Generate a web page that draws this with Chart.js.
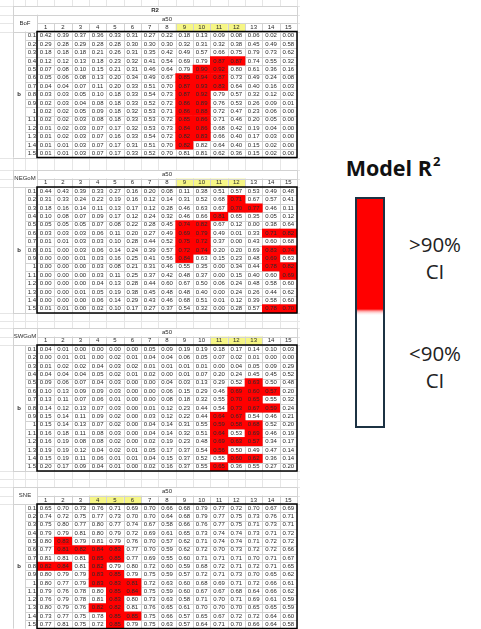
<!DOCTYPE html>
<html>
<head>
<meta charset="utf-8">
<script src="https://cdn.jsdelivr.net/npm/chart.js@4.4.1/dist/chart.umd.min.js"></script>
<style>
  html, body { margin: 0; padding: 0; background: #fff; width: 481px; height: 629px; overflow: hidden; }
  canvas { position: absolute; left: 0; }
  .ltitle { position: absolute; left: 323px; width: 140px; top: 151px; text-align: center;
            font: bold 21.5px "Open Sans", sans-serif; line-height: 24px; color: #111; }
  .ltitle sup { font-size: 13px; position: relative; top: -2px; margin-left: 1px; }
  .lbar { position: absolute; left: 355px; top: 197px; width: 30px; height: 231px; box-sizing: border-box;
          border: 2px solid #1c3243;
          background: linear-gradient(to bottom, #ff0000 0px, #ff0000 110px, #ff9c9c 112px, #ffe2e2 114px, #ffffff 116px, #ffffff 100%); }
  .ltext { position: absolute; left: 394px; width: 82px; text-align: center;
           font: 20.5px "Open Sans", sans-serif; line-height: 27px; color: #222; }
</style>
</head>
<body>
<canvas id="bof" width="300" height="163" style="top:0px"></canvas>
<canvas id="negom" width="300" height="160" style="top:163px"></canvas>
<canvas id="swgom" width="300" height="158" style="top:323px"></canvas>
<canvas id="sne" width="300" height="148" style="top:481px"></canvas>

<div class="ltitle">Model R<sup>2</sup></div>
<div class="lbar"></div>
<div class="ltext" style="top:231px">&gt;90%<br>CI</div>
<div class="ltext" style="top:340px">&lt;90%<br>CI</div>

<script>
// a50 values (columns) and b values (rows)
const colLabels = ['1','2','3','4','5','6','7','8','9','10','11','12','13','14','15'];
const rowLabels = ['0.1','0.2','0.3','0.4','0.5','0.6','0.7','0.8','0.9','1','1.1','1.2','1.3','1.4','1.5'];

// Bay of Fundy: model R2 by b (rows) and a50 (columns)
const bofR2 = [
  [0.42,0.39,0.37,0.36,0.33,0.31,0.27,0.22,0.18,0.13,0.09,0.08,0.06,0.02,0.00],
  [0.29,0.28,0.29,0.28,0.28,0.30,0.30,0.30,0.32,0.31,0.32,0.38,0.45,0.49,0.58],
  [0.18,0.18,0.18,0.21,0.26,0.31,0.35,0.42,0.49,0.57,0.66,0.75,0.79,0.73,0.62],
  [0.12,0.12,0.13,0.18,0.23,0.32,0.41,0.54,0.69,0.79,0.87,0.87,0.74,0.55,0.32],
  [0.07,0.08,0.10,0.15,0.21,0.31,0.46,0.64,0.79,0.90,0.92,0.80,0.61,0.36,0.16],
  [0.05,0.06,0.08,0.13,0.20,0.34,0.49,0.67,0.85,0.94,0.87,0.73,0.49,0.24,0.08],
  [0.04,0.04,0.07,0.11,0.20,0.33,0.51,0.70,0.87,0.93,0.83,0.64,0.40,0.16,0.03],
  [0.03,0.03,0.05,0.10,0.18,0.33,0.54,0.73,0.87,0.92,0.79,0.57,0.32,0.12,0.02],
  [0.02,0.03,0.04,0.08,0.18,0.33,0.52,0.72,0.86,0.89,0.76,0.53,0.26,0.09,0.01],
  [0.02,0.02,0.05,0.09,0.18,0.32,0.53,0.71,0.86,0.88,0.72,0.47,0.23,0.06,0.00],
  [0.02,0.02,0.03,0.08,0.18,0.33,0.53,0.72,0.85,0.86,0.71,0.46,0.20,0.05,0.00],
  [0.01,0.02,0.03,0.07,0.17,0.32,0.53,0.73,0.84,0.86,0.68,0.42,0.19,0.04,0.00],
  [0.01,0.02,0.03,0.07,0.16,0.33,0.54,0.72,0.82,0.83,0.66,0.40,0.17,0.03,0.00],
  [0.01,0.01,0.03,0.07,0.17,0.31,0.51,0.70,0.82,0.82,0.64,0.40,0.15,0.02,0.00],
  [0.01,0.01,0.03,0.07,0.17,0.33,0.52,0.70,0.81,0.81,0.62,0.36,0.15,0.02,0.00]
];
// a50 columns, per b row, whose R2 falls above the 90% CI
const bofSig = [[],[],[],[11,12],[10,11],[9,10,11],[9,10,11],[9,10],[9,10],[9,10],[9,10],[9,10],[9,10],[9],[]];
const bofHighlight = [9,10,11,12];

// Northeast Gulf of Maine
const negomR2 = [
  [0.44,0.43,0.39,0.33,0.27,0.16,0.20,0.08,0.11,0.38,0.51,0.57,0.53,0.49,0.48],
  [0.31,0.33,0.24,0.22,0.19,0.16,0.12,0.14,0.31,0.52,0.68,0.71,0.67,0.57,0.41],
  [0.18,0.16,0.14,0.11,0.13,0.17,0.12,0.28,0.46,0.63,0.67,0.70,0.77,0.46,0.11],
  [0.10,0.08,0.07,0.09,0.17,0.12,0.24,0.32,0.46,0.66,0.81,0.65,0.35,0.05,0.12],
  [0.05,0.05,0.05,0.07,0.08,0.22,0.28,0.45,0.74,0.82,0.67,0.12,0.00,0.38,0.64],
  [0.03,0.03,0.03,0.06,0.11,0.20,0.27,0.49,0.69,0.79,0.49,0.01,0.33,0.71,0.82],
  [0.01,0.01,0.03,0.03,0.10,0.28,0.44,0.52,0.75,0.72,0.37,0.00,0.43,0.60,0.68],
  [0.01,0.00,0.03,0.06,0.14,0.24,0.39,0.57,0.72,0.74,0.20,0.20,0.69,0.83,0.74],
  [0.00,0.00,0.01,0.03,0.16,0.25,0.41,0.56,0.84,0.63,0.15,0.23,0.48,0.69,0.63],
  [0.00,0.00,0.00,0.03,0.08,0.21,0.31,0.46,0.55,0.35,0.00,0.34,0.44,0.78,0.82],
  [0.00,0.00,0.00,0.03,0.11,0.25,0.37,0.42,0.48,0.37,0.00,0.15,0.40,0.60,0.69],
  [0.00,0.00,0.00,0.04,0.13,0.28,0.44,0.60,0.67,0.50,0.06,0.24,0.48,0.58,0.60],
  [0.00,0.00,0.01,0.05,0.19,0.38,0.45,0.48,0.48,0.40,0.00,0.24,0.26,0.44,0.62],
  [0.00,0.00,0.00,0.06,0.14,0.29,0.43,0.46,0.68,0.51,0.01,0.12,0.39,0.58,0.60],
  [0.01,0.01,0.00,0.02,0.10,0.17,0.27,0.37,0.54,0.32,0.00,0.28,0.57,0.78,0.70]
];
const negomSig = [[],[12],[12,13],[11],[9,10],[9,10,14,15],[9,10],[9,10,14,15],[9,14],[14,15],[15],[],[],[],[14,15]];
const negomHighlight = [9,10,11,12];

// Southwest Gulf of Maine
const swgomR2 = [
  [0.04,0.01,0.00,0.00,0.00,0.00,0.05,0.09,0.19,0.19,0.18,0.17,0.14,0.10,0.03],
  [0.00,0.01,0.01,0.00,0.02,0.01,0.04,0.04,0.06,0.05,0.07,0.02,0.01,0.00,0.00],
  [0.01,0.02,0.02,0.04,0.03,0.02,0.01,0.01,0.01,0.01,0.00,0.04,0.05,0.09,0.29],
  [0.04,0.04,0.04,0.05,0.02,0.01,0.02,0.00,0.01,0.07,0.20,0.24,0.45,0.45,0.52],
  [0.09,0.06,0.07,0.04,0.03,0.00,0.00,0.04,0.03,0.13,0.29,0.52,0.63,0.50,0.48],
  [0.10,0.13,0.09,0.09,0.03,0.00,0.00,0.06,0.15,0.29,0.46,0.69,0.60,0.57,0.20],
  [0.13,0.11,0.07,0.06,0.01,0.00,0.00,0.08,0.18,0.32,0.55,0.70,0.65,0.55,0.32],
  [0.14,0.12,0.13,0.07,0.03,0.00,0.01,0.12,0.23,0.44,0.54,0.73,0.67,0.59,0.24],
  [0.15,0.14,0.11,0.09,0.02,0.00,0.03,0.12,0.22,0.44,0.64,0.67,0.54,0.46,0.21],
  [0.15,0.14,0.13,0.07,0.02,0.00,0.04,0.14,0.31,0.55,0.59,0.58,0.68,0.52,0.20],
  [0.16,0.18,0.11,0.08,0.03,0.00,0.04,0.14,0.32,0.51,0.64,0.53,0.69,0.46,0.19],
  [0.16,0.19,0.08,0.08,0.02,0.00,0.02,0.19,0.23,0.48,0.69,0.63,0.57,0.34,0.17],
  [0.19,0.19,0.12,0.04,0.02,0.01,0.05,0.17,0.37,0.54,0.56,0.50,0.49,0.47,0.14],
  [0.15,0.19,0.11,0.06,0.01,0.01,0.04,0.15,0.37,0.52,0.55,0.60,0.62,0.36,0.14],
  [0.20,0.17,0.09,0.04,0.01,0.00,0.02,0.16,0.37,0.55,0.65,0.36,0.55,0.27,0.20]
];
const swgomSig = [[],[],[],[],[13],[12,13,14],[12,13],[12,13,14],[11,12],[11,12,13],[11,13],[11,12,13],[11],[12,13],[11]];
const swgomHighlight = [11,12,13];

// Southern New England
const sneR2 = [
  [0.65,0.70,0.73,0.76,0.71,0.69,0.70,0.66,0.68,0.79,0.77,0.72,0.70,0.67,0.69],
  [0.74,0.72,0.75,0.77,0.73,0.70,0.70,0.64,0.68,0.79,0.77,0.75,0.73,0.76,0.71],
  [0.75,0.80,0.77,0.80,0.77,0.74,0.67,0.58,0.66,0.76,0.77,0.75,0.71,0.73,0.71],
  [0.79,0.79,0.81,0.80,0.79,0.72,0.69,0.61,0.65,0.73,0.74,0.74,0.73,0.71,0.72],
  [0.80,0.83,0.79,0.81,0.79,0.76,0.70,0.57,0.62,0.71,0.74,0.74,0.71,0.72,0.72],
  [0.77,0.81,0.82,0.84,0.83,0.77,0.70,0.59,0.62,0.72,0.70,0.73,0.72,0.72,0.66],
  [0.81,0.81,0.81,0.85,0.85,0.77,0.69,0.55,0.60,0.71,0.71,0.71,0.70,0.71,0.67],
  [0.82,0.84,0.81,0.82,0.79,0.80,0.72,0.60,0.59,0.68,0.72,0.71,0.72,0.71,0.65],
  [0.80,0.79,0.79,0.83,0.85,0.79,0.75,0.59,0.57,0.72,0.71,0.73,0.70,0.65,0.62],
  [0.80,0.77,0.79,0.83,0.83,0.81,0.72,0.63,0.60,0.68,0.69,0.71,0.72,0.66,0.61],
  [0.79,0.76,0.78,0.80,0.85,0.84,0.75,0.59,0.60,0.67,0.67,0.68,0.64,0.66,0.62],
  [0.76,0.79,0.78,0.81,0.83,0.80,0.73,0.63,0.58,0.71,0.70,0.71,0.69,0.61,0.59],
  [0.80,0.79,0.76,0.82,0.82,0.81,0.76,0.65,0.61,0.70,0.70,0.70,0.65,0.65,0.59],
  [0.73,0.77,0.75,0.78,0.85,0.85,0.75,0.66,0.57,0.65,0.67,0.72,0.72,0.64,0.60],
  [0.77,0.81,0.75,0.72,0.85,0.79,0.75,0.63,0.57,0.64,0.71,0.70,0.66,0.64,0.58]
];
const sneSig = [[],[],[],[],[2],[2,3,4,5],[4,5],[1,2,4],[4,5],[4,5,6],[5,6],[5],[4,5],[5,6],[5]];
const sneHighlight = [4,5,6];

// ---- styling ----
const SIG_COLOR = '#ff0000';
const CELL_LINE = '#d2d2d2';
const SHEET_LINE = '#e6e6e6';
const HIGHLIGHT = '#f6f685';
const TEXT = '#2a2a2a';
const FONT = '"Liberation Sans", Arial, sans-serif';
const LABEL_W = 12;   // width of the b-value column
const B_W = 12;       // width of the merged "b" column

const tables = [
  { id: 'bof',   name: 'BoF',   title: 'R2', values: bofR2,   sig: bofSig,   highlight: bofHighlight,   pad: { top: 31.5, bottom: 5.5 } },
  { id: 'negom', name: 'NEGoM', title: null, values: negomR2, sig: negomSig, highlight: negomHighlight, pad: { top: 24,   bottom: 10 } },
  { id: 'swgom', name: 'SWGoM', title: null, values: swgomR2, sig: swgomSig, highlight: swgomHighlight, pad: { top: 22,   bottom: 10 } },
  { id: 'sne',   name: 'SNE',   title: null, values: sneR2,   sig: sneSig,   highlight: sneHighlight,   pad: { top: 23,   bottom: 0.5 } }
];

function geom(chart) {
  const ca = chart.chartArea;
  const xs = chart.scales.x, ys = chart.scales.y;
  const colW = xs.getPixelForValue(1) - xs.getPixelForValue(0);
  const rowH = ys.getPixelForValue(1) - ys.getPixelForValue(0);
  const colEdges = [];
  for (let i = 0; i < colLabels.length; i++) colEdges.push(xs.getPixelForValue(i) - colW / 2);
  colEdges.push(xs.getPixelForValue(colLabels.length - 1) + colW / 2);
  const rowEdges = [];
  for (let r = 0; r <= rowLabels.length; r++) rowEdges.push(ys.getPixelForValue(r));
  const left = ca.left - LABEL_W - B_W;
  return { ca, colW, rowH, colEdges, rowEdges, left, labL: ca.left - LABEL_W };
}

const crisp = v => Math.round(v) + 0.5;

function hLine(ctx, x0, x1, y) { ctx.moveTo(x0, crisp(y)); ctx.lineTo(x1, crisp(y)); }
function vLine(ctx, x, y0, y1) { ctx.moveTo(crisp(x), y0); ctx.lineTo(crisp(x), y1); }

function text(ctx, str, x, y, align, bold) {
  ctx.font = (bold ? 'bold ' : '') + '6px ' + FONT;
  ctx.textAlign = align || 'center';
  ctx.textBaseline = 'middle';
  ctx.fillStyle = TEXT;
  ctx.fillText(str, x, y);
}

const sheetPlugin = {
  id: 'sheet',
  beforeDraw(chart, args, opts) {
    const t = opts.table;
    const { ctx, width, height } = chart;
    const g = geom(chart);
    const T = g.ca.top, B = g.ca.bottom, R = g.ca.right, h = g.rowH;
    ctx.save();
    ctx.fillStyle = '#fff';
    ctx.fillRect(0, 0, width, height);

    // worksheet gridlines around the table
    ctx.strokeStyle = SHEET_LINE;
    ctx.lineWidth = 1;
    ctx.beginPath();
    [g.left, g.labL].concat(g.colEdges).forEach(x => vLine(ctx, x, 0, height));
    for (let y = T; y > -1; y -= h) hLine(ctx, 0, width, y);
    for (let y = B; y < height + 1; y += h) hLine(ctx, 0, width, y);
    ctx.stroke();

    const nHead = t.title ? 3 : 2;
    const headTop = T - nHead * h;
    ctx.fillStyle = '#fff';
    ctx.fillRect(g.left, headTop, R - g.left, B - headTop);

    // column-number row, with highlighted a50 values
    t.highlight.forEach(c => {
      ctx.fillStyle = HIGHLIGHT;
      ctx.fillRect(g.colEdges[c - 1], T - h, g.colW, h);
    });

    ctx.strokeStyle = CELL_LINE;
    ctx.beginPath();
    // outer frame of the table
    vLine(ctx, g.left, headTop, B);
    hLine(ctx, g.left, R, headTop);
    if (t.title) hLine(ctx, g.left, R, T - 2 * h);
    hLine(ctx, g.ca.left, R, T - h);
    vLine(ctx, g.ca.left, headTop + (t.title ? h : 0), T);
    vLine(ctx, R, headTop, T);
    g.colEdges.forEach(x => vLine(ctx, x, T - h, T));
    // b-value column
    vLine(ctx, g.labL, T, B);
    g.rowEdges.forEach(y => hLine(ctx, g.labL, g.ca.left, y));
    hLine(ctx, g.left, g.ca.left, T);
    hLine(ctx, g.left, g.ca.left, B);
    ctx.stroke();

    if (t.title) text(ctx, t.title, (g.left + R) / 2, T - 2.5 * h, 'center', true);
    text(ctx, 'a50', (g.ca.left + R) / 2, T - 1.5 * h, 'center');
    text(ctx, t.name, (g.left + g.ca.left) / 2, T - h, 'center');
    colLabels.forEach((lab, c) => text(ctx, lab, (g.colEdges[c] + g.colEdges[c + 1]) / 2, T - h / 2, 'center'));
    rowLabels.forEach((lab, r) => text(ctx, lab, g.ca.left - 1, (g.rowEdges[r] + g.rowEdges[r + 1]) / 2, 'right'));
    text(ctx, 'b', (g.left + g.labL) / 2, (g.rowEdges[7] + g.rowEdges[8]) / 2, 'center', true);

    // cell grid beneath the cells
    ctx.strokeStyle = CELL_LINE;
    ctx.beginPath();
    g.colEdges.forEach(x => vLine(ctx, x, T, B));
    g.rowEdges.forEach(y => hLine(ctx, g.ca.left, R, y));
    ctx.stroke();
    ctx.restore();
  },
  afterDatasetsDraw(chart, args, opts) {
    const { ctx } = chart;
    const g = geom(chart);
    ctx.save();
    // cell values
    chart.data.datasets.forEach((ds, r) => {
      const meta = chart.getDatasetMeta(r);
      meta.data.forEach((el, c) => {
        text(ctx, ds.r2[c].toFixed(2), el.x, (el.y + el.base) / 2, 'center');
      });
    });
    // heavy frame around the value block
    ctx.strokeStyle = '#000';
    ctx.lineWidth = 1.5;
    ctx.strokeRect(g.ca.left, g.ca.top, g.ca.right - g.ca.left, g.ca.bottom - g.ca.top);
    ctx.restore();
  }
};

function buildChart(t) {
  const datasets = rowLabels.map((b, r) => ({
    label: 'b = ' + b,
    r2: t.values[r],
    // each cell spans one row band on the b axis
    data: t.values[r].map(() => [r, r + 1]),
    backgroundColor: t.values[r].map((v, c) => t.sig[r].includes(c + 1) ? SIG_COLOR : 'rgba(255,255,255,0)'),
    borderWidth: 0,
    barPercentage: 1,
    categoryPercentage: 1,
    grouped: false
  }));
  new Chart(document.getElementById(t.id), {
    type: 'bar',
    data: { labels: colLabels, datasets },
    options: {
      responsive: false,
      animation: false,
      events: [],
      layout: { padding: { left: 37, right: 3, top: t.pad.top, bottom: t.pad.bottom } },
      scales: {
        x: { type: 'category', offset: true, display: false, grid: { display: false } },
        y: { type: 'linear', min: 0, max: rowLabels.length, reverse: true, display: false }
      },
      plugins: {
        legend: { display: false },
        tooltip: { enabled: false },
        sheet: { table: t }
      }
    },
    plugins: [sheetPlugin]
  });
}

tables.forEach(buildChart);
</script>
</body>
</html>
